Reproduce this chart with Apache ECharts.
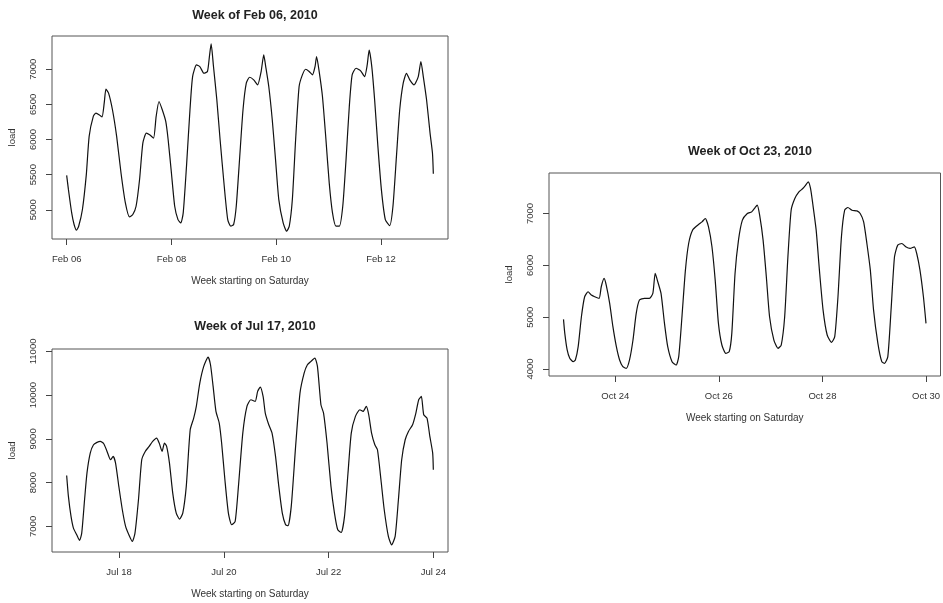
<!DOCTYPE html>
<html>
<head>
<meta charset="utf-8">
<script src="https://cdn.jsdelivr.net/npm/echarts@6/dist/echarts.min.js"></script>
<style>
html,body{margin:0;padding:0;background:#fff;}
#chart{width:943px;height:603px;}
</style>
</head>
<body>
<div id="chart"></div>
<script>
// ---- Data (hours since start of week, load) ----
const titles = ['Week of Feb 06, 2010', 'Week of Jul 17, 2010', 'Week of Oct 23, 2010'];
const xTitle = 'Week starting on Saturday';
const yTitle = 'load';

const febHours = [0,0.8,2.3,3.4,4.5,5.5,7.2,9,10.3,12.2,13.4,15,16.2,17.2,18,19.2,21,22.9,24.9,26.9,28.8,30.3,31.8,33.4,34.9,36.5,38,39.8,41,42.3,43.8,45.4,46.5,48,49.5,51,52.3,53.4,54.9,56.5,57.7,59.5,61,62.9,64.5,65.4,66.2,67.2,68.8,70.3,72.2,73.8,75.2,76.5,77.7,79.2,80.8,82.3,83.8,85.7,87.5,89.1,90.3,91.2,92.6,94.2,95.7,97.2,99.2,100.8,102,103.4,104.9,106.5,108,109.5,111.1,112.6,113.8,114.5,115.7,117.2,118.8,120.3,121.8,123.4,124.9,126.5,128,129.5,130.8,132.6,134.6,136.5,137.7,138.6,139.8,141.1,142.6,144.2,146,148,149.5,151.1,152.6,154.2,155.7,157.2,159.2,161.1,162.3,163.4,164.9,166.5,167.6,168];
const febLoad = [5490,5290,4955,4790,4709,4766,5000,5500,6045,6330,6375,6350,6320,6517,6716,6660,6420,6044,5523,5097,4898,4932,5050,5430,5949,6091,6068,6020,6328,6541,6423,6257,5997,5523,5050,4860,4813,4955,5618,6423,6896,7061,7038,6943,6967,7180,7360,7061,6565,5997,5334,4860,4766,4790,5050,5713,6423,6801,6886,6849,6778,6967,7204,7038,6754,6281,5713,5145,4813,4695,4766,5145,5997,6754,6920,7000,6967,6920,7038,7180,6967,6612,5997,5381,4955,4766,4766,5050,5713,6470,6920,7014,6981,6896,7061,7274,7038,6565,5902,5287,4860,4775,5050,5760,6423,6801,6943,6849,6778,6896,7109,6896,6565,6091,5807,5514];

const julHours = [0,0.8,2,3.1,4.6,5.9,6.9,8.2,9.3,10.8,12.3,13.9,15.4,17,18.5,20.1,21.3,22.4,23.9,25.5,27,28.5,30.1,31.3,32.9,34.4,36,37.8,39.4,41.2,42.4,43.7,44.8,45.8,47.1,48.6,50.2,51.7,53.2,54.8,56.6,58.2,59.4,61,62.8,64.8,65.9,67.1,68.4,69.9,71,72.5,74.1,75.6,77.2,78.7,80.7,82.6,84.4,86.4,87.5,88.7,90,91,92.6,94.1,95.7,97.2,98.8,100.3,101.4,102.9,104.9,106.9,108.8,110.3,111.9,113.7,114.9,116.5,117.7,119.3,121.1,122.7,124.2,125.8,127.3,128.9,130.4,132.3,134.3,135.8,137.3,138.4,139.7,141.2,142.4,144,145.5,147.4,148.9,150.5,152,153.5,155.1,156.6,158.5,160,161.3,162.5,163.6,165.1,166.4,167.7,168];
const julLoad = [8165,7685,7228,6961,6809,6679,6847,7609,8219,8676,8866,8920,8943,8889,8714,8524,8600,8447,7914,7381,7000,6809,6657,6847,7609,8524,8714,8829,8943,9019,8905,8714,8905,8829,8447,7762,7304,7167,7304,7914,9209,9476,9743,10276,10657,10870,10695,10200,9628,9362,8905,8066,7304,7038,7114,7914,9133,9743,9895,9857,10086,10185,9971,9590,9324,9133,8600,7914,7304,7038,7015,7457,8829,10048,10505,10695,10771,10848,10657,9781,9590,8905,7914,7304,6923,6862,7228,8219,9133,9514,9667,9628,9743,9552,9133,8866,8752,8066,7381,6771,6580,6771,7609,8524,8981,9171,9324,9590,9895,9971,9552,9476,9057,8676,8295];

const octHours = [0,0.6,1.7,2.9,4.5,5.5,6.8,8.3,9.8,11.4,12.9,14.5,16.5,17.5,18.8,19.8,21.4,22.9,24.5,26,27.5,29.1,30.6,32.2,33.7,35.2,37.5,39.8,41.4,42.5,43.7,45.2,46.8,48.3,50.3,52.2,53.4,54.9,56.5,58,59.8,62.2,64.2,65.7,67.2,68.8,70.3,71.8,73.4,75.2,76.8,78,79.5,81.1,82.9,85.2,87.2,88.8,89.8,90.9,92.5,94,95.5,97.5,99.4,100.9,102.5,104,105.5,107.2,109.1,110.9,112.2,113.4,114.5,115.5,117.1,118.6,120.3,122.2,124.2,125.7,127.2,128.8,130.3,131.8,133.7,136,137.5,139.1,140.6,142.2,143.7,145.7,147.5,148.8,150.3,151.8,153.4,154.9,156.8,158.6,160.6,162.6,163.7,165.2,166.8,168];
const octLoad = [4957,4688,4367,4206,4142,4174,4431,5009,5394,5491,5426,5394,5362,5587,5747,5619,5266,4816,4431,4174,4045,4013,4174,4559,5073,5330,5362,5362,5458,5844,5683,5458,4880,4431,4142,4077,4238,5009,5908,6422,6679,6775,6839,6904,6743,6358,5715,4880,4463,4302,4334,4688,5844,6486,6872,7000,7032,7116,7161,6968,6486,5780,5009,4559,4399,4463,5009,6165,7064,7289,7417,7482,7546,7610,7482,7193,6679,5908,5137,4656,4514,4624,5394,6550,7064,7116,7064,7051,7000,6839,6422,5908,5137,4495,4142,4110,4238,5137,6165,6390,6422,6358,6326,6358,6229,5908,5394,4880];

const xTickHours = [[0,48,96,144],[24,72,120,168],[24,72,120,168]];
const xTickLabels = [['Feb 06','Feb 08','Feb 10','Feb 12'],['Jul 18','Jul 20','Jul 22','Jul 24'],['Oct 24','Oct 26','Oct 28','Oct 30']];
const yTicks = [[5000,5500,6000,6500,7000],[7000,8000,9000,10000,11000],[4000,5000,6000,7000]];
const yRanges = [[4584,7473],[6415,11055],[3865,7782]];

// ---- Layout ----
const grids = [
  {left:52, top:36, width:396, height:203},
  {left:52, top:349, width:396, height:203},
  {left:549, top:173, width:393, height:203}
];
const titlePos = [[250,4],[250,315],[745,140]];
const FONT = "'Liberation Sans', Arial, sans-serif";
const TXT = '#333';
const series = [[febHours,febLoad],[julHours,julLoad],[octHours,octLoad]];

const option = {
  animation:false,
  backgroundColor:'#fff',
  title: titles.map((t,i)=>({
    text:t, left:titlePos[i][0], top:titlePos[i][1], textAlign:'center',
    textStyle:{fontFamily:FONT, fontSize:12.5, fontWeight:'bold', color:'#222'}
  })),
  grid: grids.map(g=>Object.assign({show:true, borderColor:'#555', borderWidth:1, backgroundColor:'transparent'}, g)),
  xAxis: grids.map((g,i)=>({
    type:'value', gridIndex:i, min:-6.72, max:174.72,
    name:xTitle, nameLocation:'middle', nameGap:37,
    nameTextStyle:{fontFamily:FONT, fontSize:10, color:TXT},
    axisLine:{show:false, onZero:false},
    splitLine:{show:false},
    axisTick:{show:true, inside:false, length:6, lineStyle:{color:'#444', width:1}, customValues:xTickHours[i]},
    axisLabel:{fontFamily:FONT, fontSize:9.5, color:TXT, margin:15, customValues:xTickHours[i],
      formatter:(v)=>{const k=xTickHours[i].indexOf(v); return k>=0?xTickLabels[i][k]:'';}}
  })),
  yAxis: grids.map((g,i)=>({
    type:'value', gridIndex:i, min:yRanges[i][0], max:yRanges[i][1],
    name:yTitle, nameLocation:'middle', nameGap:35, nameRotate:90,
    nameTextStyle:{fontFamily:FONT, fontSize:9.5, color:TXT},
    axisLine:{show:false, onZero:false},
    splitLine:{show:false},
    axisTick:{show:true, inside:false, length:6, lineStyle:{color:'#444', width:1}, customValues:yTicks[i]},
    axisLabel:{fontFamily:FONT, fontSize:9.5, color:TXT, margin:14, rotate:90, customValues:yTicks[i],
      formatter:(v)=>String(v)}
  })),
  series: series.map((s,i)=>({
    type:'line', xAxisIndex:i, yAxisIndex:i, showSymbol:false, symbol:'none', smooth:0.2,
    lineStyle:{color:'#111', width:1.2},
    data:s[0].map((h,k)=>[h, s[1][k]])
  }))
};
const chart = echarts.init(document.getElementById('chart'), null, {renderer:'canvas'});
chart.setOption(option);
</script>
</body>
</html>
